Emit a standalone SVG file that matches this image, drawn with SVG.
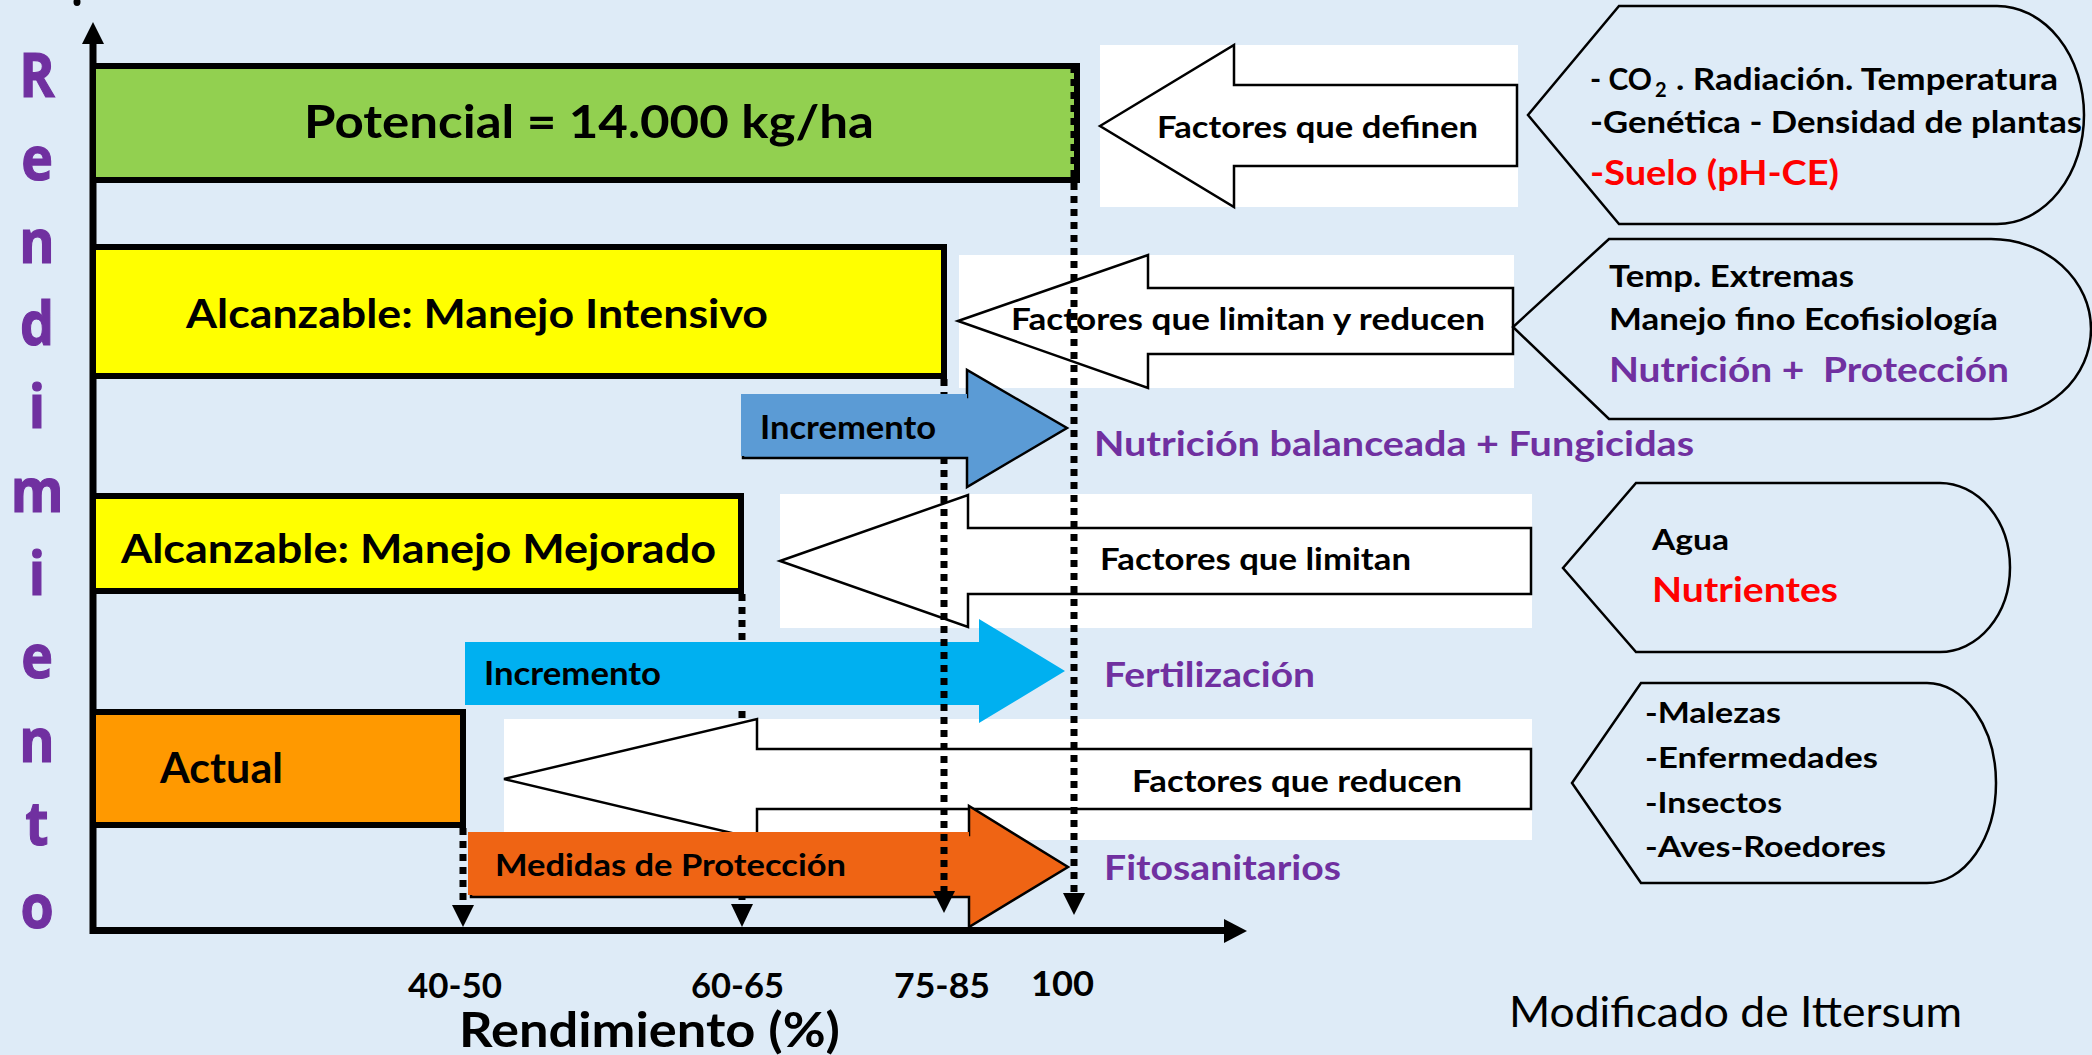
<svg xmlns="http://www.w3.org/2000/svg" width="2092" height="1055" viewBox="0 0 2092 1055">
<style>
.t{font-family:Lato,'Open Sans','Liberation Sans',sans-serif;font-weight:700;fill:#000}
.reg{font-family:Lato,'Open Sans','Liberation Sans',sans-serif;font-weight:400;fill:#000}
.p{fill:#7030A0}
.r{fill:#FF0000}
.bar{stroke:#000;stroke-width:6}
.wbox{fill:#fff}
.warr{fill:#fff;stroke:#000;stroke-width:2.5;stroke-linejoin:miter}
.cloud{fill:none;stroke:#000;stroke-width:2.5}
.dash{stroke:#000;stroke-width:7;stroke-dasharray:7 6;fill:none}
.vl{font-family:'Open Sans',Lato,sans-serif;font-weight:700;fill:#7030A0;stroke:#7030A0;stroke-width:1.2;font-size:61px}
</style>
<rect x="0" y="0" width="2092" height="1055" fill="#DEEBF7"/>
<ellipse cx="77" cy="2" rx="3.5" ry="4" fill="#000"/>

<g id="axes">
  <line x1="93" y1="40" x2="93" y2="934" stroke="#000" stroke-width="7"/>
  <polygon points="93,22 82,44 104,44" fill="#000"/>
  <line x1="90" y1="930.5" x2="1226" y2="930.5" stroke="#000" stroke-width="7"/>
  <polygon points="1247,931 1224,919 1224,943" fill="#000"/>
</g>

<g id="y-label">
  <g transform="translate(37,0) scale(0.88,1)">
    <text class="vl" text-anchor="middle" x="0" y="97">R</text>
    <text class="vl" text-anchor="middle" x="0" y="180">e</text>
    <text class="vl" text-anchor="middle" x="0" y="263">n</text>
    <text class="vl" text-anchor="middle" x="0" y="345">d</text>
    <text class="vl" text-anchor="middle" x="0" y="428">i</text>
    <text class="vl" text-anchor="middle" x="0" y="512">m</text>
    <text class="vl" text-anchor="middle" x="0" y="595">i</text>
    <text class="vl" text-anchor="middle" x="0" y="678">e</text>
    <text class="vl" text-anchor="middle" x="0" y="762">n</text>
    <text class="vl" text-anchor="middle" x="0" y="845">t</text>
    <text class="vl" text-anchor="middle" x="0" y="928">o</text>
  </g>
</g>

<g id="n-potencial">
  <rect class="bar" x="93" y="66" width="984" height="114" fill="#92D050"/>
  <text class="t" x="304" y="138" font-size="46" textLength="570" lengthAdjust="spacingAndGlyphs">Potencial = 14.000 kg/ha</text>
</g>
<g id="n-intensivo">
  <rect class="bar" x="93" y="247" width="851" height="129" fill="#FFFF00"/>
  <text class="t" x="186" y="328" font-size="40" textLength="582" lengthAdjust="spacingAndGlyphs">Alcanzable: Manejo Intensivo</text>
</g>
<g id="n-mejorado">
  <rect class="bar" x="93" y="496" width="648" height="95" fill="#FFFF00"/>
  <text class="t" x="121" y="563" font-size="41" textLength="595" lengthAdjust="spacingAndGlyphs">Alcanzable: Manejo Mejorado</text>
</g>
<g id="n-actual">
  <rect class="bar" x="93" y="712" width="370" height="113" fill="#FF9900"/>
  <text class="t" x="160" y="783" font-size="42" textLength="123" lengthAdjust="spacingAndGlyphs">Actual</text>
</g>

<g id="connectors-back">
  <line class="dash" x1="463" y1="828" x2="463" y2="905"/>
  <polygon points="452,905 474,905 463,927" fill="#000"/>
  <line class="dash" x1="742" y1="594" x2="742" y2="904"/>
  <polygon points="731,904 753,904 742,927" fill="#000"/>
</g>

<g id="n-definen">
  <rect class="wbox" x="1100" y="45" width="418" height="162"/>
  <polygon class="warr" points="1100,126 1234,45 1234,85 1517,85 1517,166 1234,166 1234,207"/>
  <text class="t" x="1157" y="138" font-size="30" textLength="321" lengthAdjust="spacingAndGlyphs">Factores que definen</text>
</g>
<g id="n-limitan-reducen">
  <rect class="wbox" x="959" y="255" width="555" height="133"/>
  <polygon class="warr" points="958,321 1148,255 1148,288 1513,288 1513,354 1148,354 1148,388"/>
  <text class="t" x="1011" y="330" font-size="30" textLength="474" lengthAdjust="spacingAndGlyphs">Factores que limitan y reducen</text>
</g>
<g id="n-limitan">
  <rect class="wbox" x="780" y="494" width="752" height="134"/>
  <polygon class="warr" points="780,561 968,495 968,528 1531,528 1531,594 968,594 968,627"/>
  <text class="t" x="1100" y="570" font-size="30" textLength="311" lengthAdjust="spacingAndGlyphs">Factores que limitan</text>
</g>
<g id="n-reducen">
  <rect class="wbox" x="504" y="719" width="1028" height="121"/>
  <polygon class="warr" points="504,779 757,719 757,749 1531,749 1531,809 757,809 757,839"/>
  <text class="t" x="1132" y="792" font-size="30" textLength="330" lengthAdjust="spacingAndGlyphs">Factores que reducen</text>
</g>

<g id="n-incremento2">
  <polygon points="465,642 979,642 979,619 1065,671 979,723 979,705 465,705" fill="#00B0F0"/>
  <text class="t" x="484" y="685" font-size="32" textLength="177" lengthAdjust="spacingAndGlyphs">Incremento</text>
</g>
<g id="n-medidas">
  <polygon points="471,835 969,835 969,806 1068,867 969,927 969,897 471,897" fill="#EF6414" stroke="#000" stroke-width="2.5"/>
  <rect x="468" y="832" width="501" height="63" fill="#EF6414"/>
  <text class="t" x="495" y="876" font-size="31" textLength="351" lengthAdjust="spacingAndGlyphs">Medidas de Protección</text>
</g>

<g id="connectors-front">
  <line class="dash" x1="944" y1="379" x2="944" y2="891"/>
  <polygon points="933,891 955,891 944,913" fill="#000"/>
  <line class="dash" x1="1074" y1="66" x2="1074" y2="893"/>
  <polygon points="1063,893 1085,893 1074,915" fill="#000"/>
</g>

<g id="n-incremento1">
  <polygon points="743,397 967,397 967,370 1067,428 967,487 967,458 743,458" fill="#5B9BD5" stroke="#000" stroke-width="2.5"/>
  <rect x="741" y="394" width="226" height="62" fill="#5B9BD5"/>
  <text class="t" x="760" y="439" font-size="32" textLength="176" lengthAdjust="spacingAndGlyphs">Incremento</text>
</g>

<g id="n-cloud1">
  <path class="cloud" d="M1619,6 L1997,6 A87,109 0 0 1 1997,224 L1619,224 L1528,115 Z"/>
  <text class="t" x="1590" y="90" font-size="31" textLength="62" lengthAdjust="spacingAndGlyphs">- CO</text>
  <text class="t" x="1655" y="97" font-size="20">2</text>
  <text class="t" x="1676" y="90" font-size="31" textLength="382" lengthAdjust="spacingAndGlyphs">. Radiación. Temperatura</text>
  <text class="t" x="1590" y="133" font-size="31" textLength="492" lengthAdjust="spacingAndGlyphs">-Genética - Densidad de plantas</text>
  <text class="t r" x="1590" y="185" font-size="35" textLength="249" lengthAdjust="spacingAndGlyphs">-Suelo (pH-CE)</text>
</g>
<g id="n-cloud2">
  <path class="cloud" d="M1609,239 L1991,239 A100,90 0 0 1 1991,419 L1609,419 L1513,327 Z"/>
  <text class="t" x="1609" y="287" font-size="31" textLength="245" lengthAdjust="spacingAndGlyphs">Temp. Extremas</text>
  <text class="t" x="1609" y="330" font-size="31" textLength="389" lengthAdjust="spacingAndGlyphs">Manejo fino Ecofisiología</text>
  <text class="t p" x="1609" y="382" font-size="35" textLength="400" lengthAdjust="spacingAndGlyphs" style="white-space:pre">Nutrición +  Protección</text>
</g>
<g id="n-cloud3">
  <path class="cloud" d="M1636,483 L1940,483 A70,84.5 0 0 1 1940,652 L1636,652 L1563,568 Z"/>
  <text class="t" x="1652" y="550" font-size="29" textLength="77" lengthAdjust="spacingAndGlyphs">Agua</text>
  <text class="t r" x="1652" y="602" font-size="35" textLength="186" lengthAdjust="spacingAndGlyphs">Nutrientes</text>
</g>
<g id="n-cloud4">
  <path class="cloud" d="M1641,683 L1927,683 A69,100 0 0 1 1927,883 L1641,883 L1572,783 Z"/>
  <text class="t" x="1645" y="723" font-size="29" textLength="136" lengthAdjust="spacingAndGlyphs">-Malezas</text>
  <text class="t" x="1645" y="768" font-size="29" textLength="233" lengthAdjust="spacingAndGlyphs">-Enfermedades</text>
  <text class="t" x="1645" y="813" font-size="29" textLength="137" lengthAdjust="spacingAndGlyphs">-Insectos</text>
  <text class="t" x="1645" y="857" font-size="29" textLength="241" lengthAdjust="spacingAndGlyphs">-Aves-Roedores</text>
</g>

<g id="labels">
  <text class="t p" x="1094" y="456" font-size="35" textLength="600" lengthAdjust="spacingAndGlyphs">Nutrición balanceada + Fungicidas</text>
  <text class="t p" x="1104" y="687" font-size="35" textLength="211" lengthAdjust="spacingAndGlyphs">Fertilización</text>
  <text class="t p" x="1104" y="880" font-size="35" textLength="237" lengthAdjust="spacingAndGlyphs">Fitosanitarios</text>
  <text class="t" x="408" y="998" font-size="35" textLength="94" lengthAdjust="spacingAndGlyphs">40-50</text>
  <text class="t" x="691" y="998" font-size="35" textLength="93" lengthAdjust="spacingAndGlyphs">60-65</text>
  <text class="t" x="894" y="998" font-size="35" textLength="96" lengthAdjust="spacingAndGlyphs">75-85</text>
  <text class="t" x="1031" y="996" font-size="35" textLength="63" lengthAdjust="spacingAndGlyphs">100</text>
  <text class="t" x="459" y="1047" font-size="47" textLength="381" lengthAdjust="spacingAndGlyphs">Rendimiento (%)</text>
  <text class="reg" x="1509" y="1027" font-size="42" textLength="453" lengthAdjust="spacingAndGlyphs">Modificado de Ittersum</text>
</g>
</svg>
